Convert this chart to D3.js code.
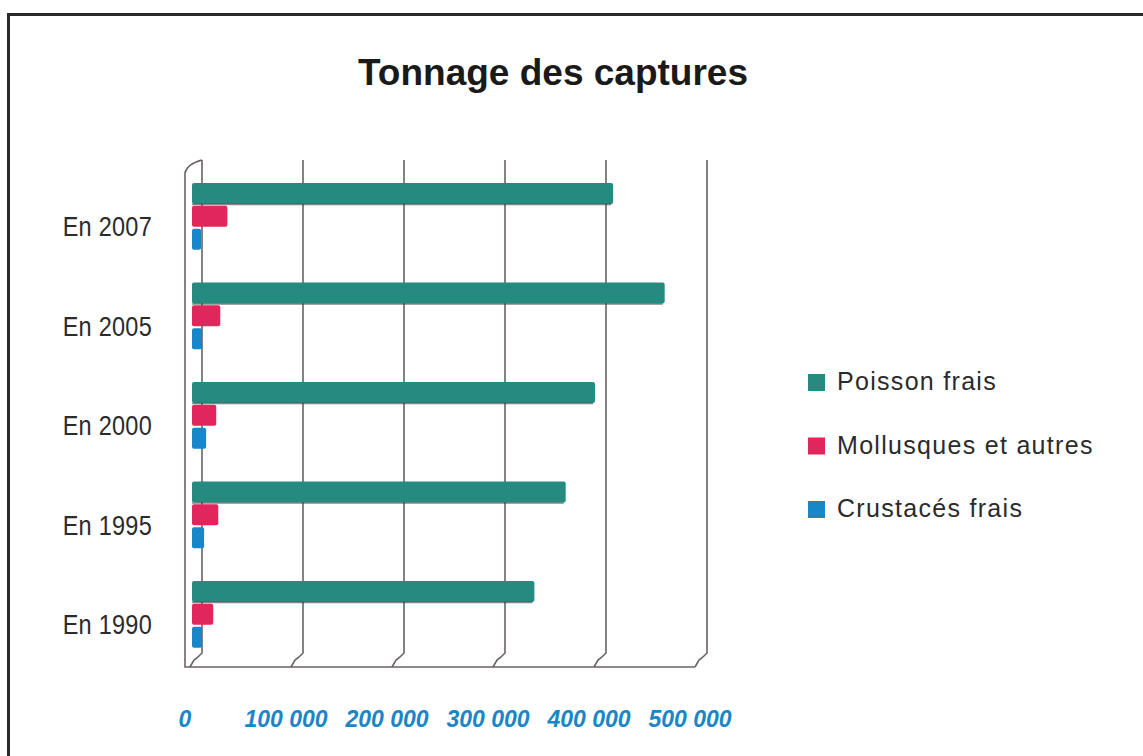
<!DOCTYPE html>
<html>
  <head>
    <title>Tonnage des captures</title>
    <meta charset="UTF-8">
    <script src="https://cdnjs.cloudflare.com/ajax/libs/d3/7.8.5/d3.min.js"></script>
  </head>
  <style type="text/css">
    body {
      margin: 0px;
      overflow: hidden;
      background: #fff;
    }
    .title {
      font-family: "Liberation Sans", Arial, sans-serif;
      font-weight: bold;
      font-size: 37px;
      fill: #1a1a1a;
      text-anchor: middle;
    }
    .year-label {
      font-family: "Liberation Sans", Arial, sans-serif;
      font-size: 28px;
      letter-spacing: 0.3px;
      fill: #2b2b2b;
      text-anchor: end;
    }
    .tick-label {
      font-family: "Liberation Sans", Arial, sans-serif;
      font-weight: bold;
      font-style: italic;
      font-size: 23px;
      fill: #1a86c8;
      text-anchor: middle;
    }
    .legend-label {
      font-family: "Liberation Sans", Arial, sans-serif;
      font-size: 25px;
      letter-spacing: 1.3px;
      fill: #2b2b2b;
    }
    .grid {
      fill: none;
      stroke: #6b6364;
      stroke-width: 1.6;
    }
  </style>
  <body>
    <div id="chart"></div>
    <script>
      // data (tonnes)
      const years = ["En 2007", "En 2005", "En 2000", "En 1995", "En 1990"];
      const series = ["Poisson frais", "Mollusques et autres", "Crustacés frais"];
      const poissonFrais = [417000, 468000, 399000, 370000, 339000];
      const mollusques = [35000, 28000, 24000, 26000, 21000];
      const crustaces = [9000, 10000, 14000, 12000, 10000];
      const tickValues = [0, 100000, 200000, 300000, 400000, 500000];
      const colors = ["#258a80", "#e0265a", "#1787c9"];

      const width = 1143;
      const height = 756;
      const depth = {dx: 12, dy: 14}; // fake 3d offset of the floor

      const svg = d3.select("#chart")
        .append("svg")
        .attr("width", width)
        .attr("height", height);

      // frame
      svg.append("rect")
        .attr("x", 8.5).attr("y", 14.5)
        .attr("width", 1140).attr("height", 800)
        .attr("fill", "none")
        .attr("stroke", "#2a2a2a")
        .attr("stroke-width", 3);

      svg.append("text")
        .attr("class", "title")
        .attr("x", 553).attr("y", 85)
        .text("Tonnage des captures");

      // scales
      const x = d3.scaleLinear().domain([0, 500000]).range([202, 707]);
      const y = d3.scaleBand().domain(years)
        .range([150.2, 680.5])
        .paddingInner(0.33)
        .paddingOuter(0.33);
      const ySub = d3.scaleBand().domain(series)
        .range([0, y.bandwidth()])
        .paddingInner(0.08);
      const color = d3.scaleOrdinal().domain(series).range(colors);

      const wallTop = 160;
      const floorBack = 667 - depth.dy;
      const floorFront = 667;

      // back wall grid lines with their bit of floor
      svg.append("g").selectAll("path")
        .data(tickValues)
        .join("path")
        .attr("class", "grid")
        .attr("d", d => `M${x(d)},${wallTop} V${floorBack} L${x(d) - 4},${floorBack + 4} L${x(d) - 8},${floorBack + 7} L${x(d) - depth.dx},${floorFront}`);

      // left wall + floor edge
      const x0 = x(0) - depth.dx - 5;
      svg.append("path")
        .attr("class", "grid")
        .attr("stroke-width", 2)
        .attr("stroke", "#555")
        .attr("d", `M${x(0)},${wallTop} Q${x0 + 2},${wallTop + 4} ${x0},${wallTop + 13} V${floorFront} H${x(500000) - depth.dx}`);

      // bars
      const rows = years.map((yr, i) => ({
        year: yr,
        values: [poissonFrais[i], mollusques[i], crustaces[i]]
      }));
      const shift = 10; // bars sit in front of the back wall

      const groups = svg.append("g").selectAll("g")
        .data(rows)
        .join("g")
        .attr("transform", d => `translate(0,${y(d.year)})`);

      groups.selectAll("rect")
        .data(d => d.values.map((v, j) => ({key: series[j], value: v})))
        .join("rect")
        .attr("x", x(0) - shift)
        .attr("y", d => ySub(d.key))
        .attr("width", d => x(d.value) - x(0))
        .attr("height", ySub.bandwidth())
        .attr("rx", 2)
        .attr("fill", d => color(d.key));

      // thin shadow under the teal bars
      groups.append("line")
        .attr("x1", x(0) - shift)
        .attr("x2", d => x(d.values[0]) - shift - 2)
        .attr("y1", ySub(series[0]) + ySub.bandwidth() + 0.5)
        .attr("y2", ySub(series[0]) + ySub.bandwidth() + 0.5)
        .attr("stroke", "#333")
        .attr("stroke-opacity", 0.6)
        .attr("stroke-width", 1.5);

      // year labels, squeezed horizontally like the condensed original
      svg.append("g").selectAll("text")
        .data(years)
        .join("text")
        .attr("class", "year-label")
        .attr("transform", d => `translate(152,${y(d) + y.bandwidth() / 2 + 20}) scale(0.84,1)`)
        .text(d => d);

      // x tick labels
      const fmt = d3.formatLocale({decimal: ",", thousands: " ", grouping: [3], currency: ["", "€"]}).format(",d");
      svg.append("g").selectAll("text")
        .data(tickValues)
        .join("text")
        .attr("class", "tick-label")
        .attr("x", d => x(d) - 17)
        .attr("y", 727)
        .text(d => fmt(d));

      // legend
      const legend = svg.append("g").selectAll("g")
        .data(series)
        .join("g")
        .attr("transform", (d, i) => `translate(808,${374 + i * 63.5})`);
      legend.append("rect")
        .attr("width", 17).attr("height", 17)
        .attr("fill", d => color(d));
      legend.append("text")
        .attr("class", "legend-label")
        .attr("x", 29).attr("y", 16)
        .text(d => d);
    </script>
  </body>
</html>
